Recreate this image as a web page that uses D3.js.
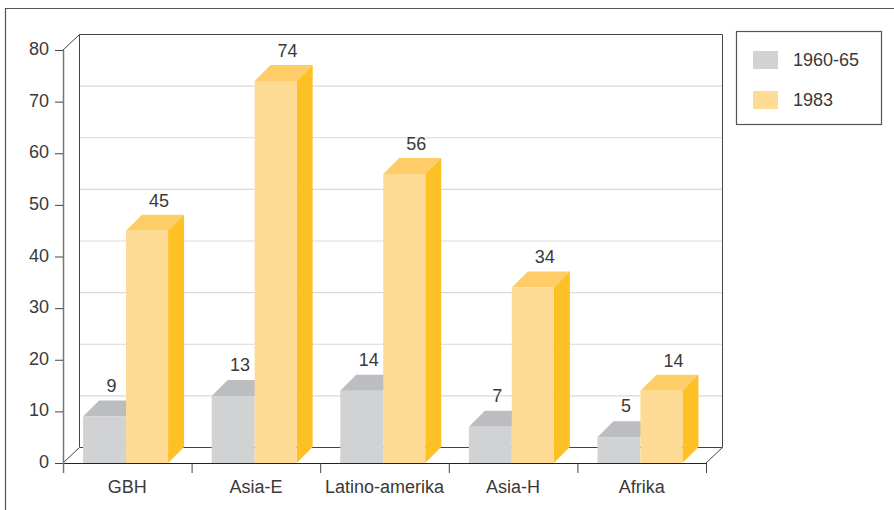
<!DOCTYPE html>
<html><head><meta charset="utf-8">
<script src="https://cdn.jsdelivr.net/npm/d3@7"></script>
<style>body{margin:0;background:#fff}svg{display:block}text{font-family:"Liberation Sans",Arial,Helvetica,sans-serif;fill:#3a3a3a}</style>
</head><body>
<svg id="c" width="894" height="510"></svg>
<script>
const categories = ["GBH","Asia-E","Latino-amerika","Asia-H","Afrika"];
const series1960 = [9,13,14,7,5];
const series1983 = [45,74,56,34,14];
const seriesNames = ["1960-65","1983"];
const yTicks = [0,10,20,30,40,50,60,70,80];

const svg = d3.select("#c");
const DX = 16, DY = -16;
const x = d3.scaleBand().domain(categories).range([63,706]).padding(0);
const y = d3.scaleLinear().domain([0,80]).range([463,50]);
const bw = x.bandwidth();

const grayFront="#d1d2d4", grayTop="#bcbdc0";
const yelFront="#fddb95", yelTop="#fecd68", yelSide="#fdc126";
const dark="#444";

// outer frame
svg.append("path").attr("d","M5.5,510 V8.5 H894").attr("fill","none").attr("stroke","#555").attr("stroke-width",1.2);

// gridlines on back wall
svg.append("g").selectAll("line").data(yTicks.filter(d=>d>0&&d<80)).join("line")
  .attr("x1",63+DX).attr("x2",706+DX).attr("y1",d=>y(d)+DY+0.5).attr("y2",d=>y(d)+DY+0.5)
  .attr("stroke","#d9d9d9").attr("stroke-width",1.2);

// back wall frame
const bx0=63+DX, bx1=706+DX, by0=y(80)+DY, by1=y(0)+DY;
svg.append("path").attr("d",`M${bx0+0.5},${by1} V${by0+0.5} H${bx1+0.5} V${by1}`).attr("fill","none").attr("stroke",dark).attr("stroke-width",1);
svg.append("path").attr("d",`M63,${y(80)} L${bx0+0.5},${by0+0.5}`).attr("fill","none").attr("stroke",dark);
svg.append("path").attr("d",`M63,${y(0)} L${bx0+0.5},${by1+0.5} H${bx1+0.5} L706,${y(0)}`).attr("fill","none").attr("stroke",dark);

// bars
const g = svg.append("g");
categories.forEach((c,i)=>{
  const b = x(c);
  const gx0 = b + bw*0.156, gx1 = b + bw*0.49;
  const yx0 = gx1, yx1 = b + bw*0.817;
  const y0 = y(0);
  const gy = y(series1960[i]);
  g.append("path").attr("d",`M${gx0},${gy} L${gx0+DX},${gy+DY} L${gx1+DX},${gy+DY} L${gx1},${gy}Z`).attr("fill",grayTop);
  g.append("rect").attr("x",gx0).attr("y",gy).attr("width",gx1-gx0).attr("height",y0-gy).attr("fill",grayFront);
  const yy = y(series1983[i]);
  g.append("path").attr("d",`M${yx0},${yy} L${yx0+DX},${yy+DY} L${yx1+DX},${yy+DY} L${yx1},${yy}Z`).attr("fill",yelTop);
  g.append("path").attr("d",`M${yx1},${yy} L${yx1+DX},${yy+DY} L${yx1+DX},${y0+DY} L${yx1},${y0}Z`).attr("fill",yelSide);
  g.append("rect").attr("x",yx0).attr("y",yy).attr("width",yx1-yx0).attr("height",y0-yy).attr("fill",yelFront);
  g.append("text").attr("x",(gx0+gx1)/2+7).attr("y",gy+DY-9).attr("text-anchor","middle").attr("font-size",18).text(series1960[i]);
  g.append("text").attr("x",(yx0+yx1)/2+12).attr("y",yy+DY-8).attr("text-anchor","middle").attr("font-size",18).text(series1983[i]);
});

// front floor / x axis
svg.append("line").attr("x1",63).attr("x2",706).attr("y1",y(0)+0.5).attr("y2",y(0)+0.5).attr("stroke","#222").attr("stroke-width",1.2);
const xt = svg.append("g");
const tickXs = categories.map(c=>x(c)).concat([706]);
xt.selectAll("line").data(tickXs).join("line")
  .attr("x1",d=>d+0.5).attr("x2",d=>d+0.5).attr("y1",y(0)).attr("y2",y(0)+10).attr("stroke","#444");
xt.selectAll("text").data(categories).join("text")
  .attr("x",d=>x(d)+bw/2).attr("y",y(0)+30).attr("text-anchor","middle").attr("font-size",18).text(d=>d);

// y axis
const ya = svg.append("g");
ya.append("line").attr("x1",63.5).attr("x2",63.5).attr("y1",y(80)).attr("y2",y(0)+10).attr("stroke","#777").attr("stroke-width",1.5);
ya.selectAll("line.t").data(yTicks).join("line").attr("class","t")
  .attr("x1",55).attr("x2",63).attr("y1",d=>y(d)+0.5).attr("y2",d=>y(d)+0.5).attr("stroke","#444");
ya.selectAll("text").data(yTicks).join("text")
  .attr("x",49).attr("y",d=>y(d)+5).attr("text-anchor","end").attr("font-size",18).text(d=>d);

// legend
const lg = svg.append("g");
lg.append("rect").attr("x",736.5).attr("y",31.5).attr("width",145).attr("height",93).attr("fill","#fff").attr("stroke","#555").attr("stroke-width",1.2);
const colors=[grayFront,yelFront];
seriesNames.forEach((s,i)=>{
  lg.append("rect").attr("x",753).attr("y",51+i*40).attr("width",25).attr("height",18).attr("fill",colors[i]);
  lg.append("text").attr("x",793).attr("y",66+i*40).attr("font-size",18).text(s);
});
</script>
</body></html>
